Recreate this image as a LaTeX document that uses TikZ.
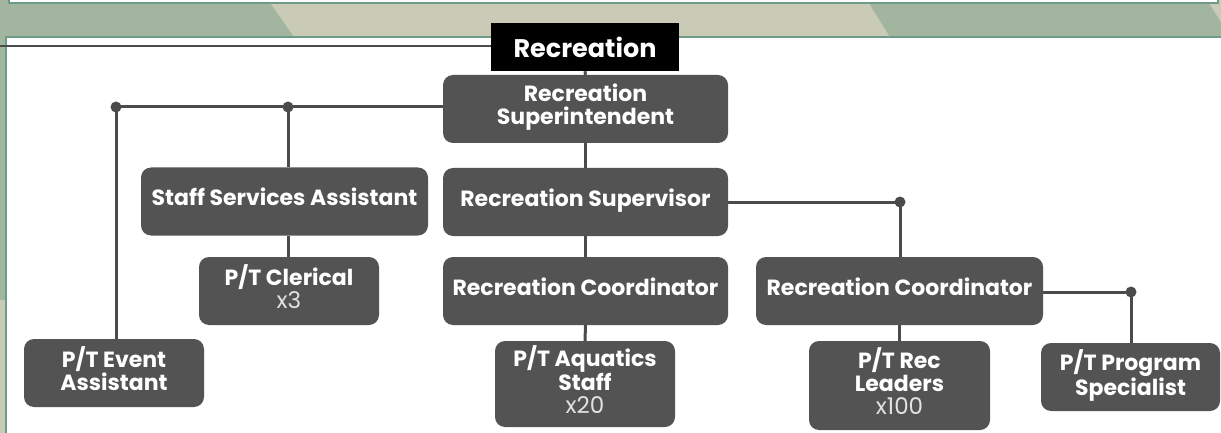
\documentclass[tikz,border=0pt]{standalone}
\usepackage{fontspec}
\setmainfont{Poppins}
\definecolor{boxgray}{HTML}{535353}
\definecolor{linegray}{HTML}{4B4B4B}
\definecolor{sage}{HTML}{A2B59F}
\definecolor{beige}{HTML}{C9CBB7}
\definecolor{frame}{HTML}{6C9B88}
\definecolor{countgray}{HTML}{E2E2E2}
% head count under a job title, in regular weight
\newcommand\headcount[1]{{\mdseries\fontsize{23}{24}\selectfont\color{countgray}#1}}
\begin{document}
\begin{tikzpicture}[x=1pt,y=-1pt,
  role/.style={fill=boxgray, rounded corners=10pt, text=white, align=center,
    inner sep=0pt, minimum height=68pt, text depth=9pt,
    font=\bfseries\fontsize{22}{23}\selectfont},
  link/.style={draw=linegray, line width=3pt},
  joint/.style={fill=linegray, circle, inner sep=0pt, minimum size=11pt}]
\useasboundingbox (0,0) rectangle (1221,433);

% backdrop: banded header strip and white panels
\fill[beige] (0,0) rectangle (1221,433);
\fill[sage] (0,0) -- (268,0) -- (294,37) -- (0,37) -- cycle;
\fill[sage] (867,0) -- (1207,0) -- (1230,37) -- (890,37) -- cycle;
\fill[sage] (0,37) rectangle (5,300);
\filldraw[fill=white, draw=frame, line width=2pt] (9,-10) rectangle (1218,3);
\filldraw[fill=white, draw=frame, line width=2pt] (6,37) rectangle (1240,450);

% section title
\node[fill=black, text=white, inner sep=0pt, minimum width=188pt, minimum height=48pt,
  font=\bfseries\fontsize{25.5}{28}\selectfont] (title) at (585,47) {Recreation};
\coordinate (rule) at (0,46);
\draw[linegray, line width=2pt] (rule) -- (title.west |- rule);

% positions
\node[role, minimum width=285pt] (supt) at (585.5,109) {Recreation\\Superintendent};
\node[role, minimum width=287pt] (ssa) at (284.5,201.5) {Staff Services Assistant};
\node[role, minimum width=285pt] (sv) at (585.5,202) {Recreation Supervisor};
\node[role, minimum width=180pt] (cler) at (289,291) {P/T Clerical\\\headcount{x3}};
\node[role, minimum width=285pt] (rc1) at (585.5,291) {Recreation Coordinator};
\node[role, minimum width=287pt] (rc2) at (899.5,291) {Recreation Coordinator};
\node[role, minimum width=180pt] (ev) at (114,373) {P/T Event\\Assistant};
\node[role, minimum width=180pt, minimum height=86pt] (aq) at (585,384) {P/T Aquatics\\Staff\\\headcount{x20}};
\node[role, minimum width=181pt, minimum height=89pt] (rl) at (899.5,385.5) {P/T Rec\\Leaders\\\headcount{x100}};
\node[role, minimum width=179pt] (ps) at (1130.5,377) {P/T Program\\Specialist};

% branch points
\node[joint] (j1) at (116,107) {};
\node[joint] (j2) at (288,107) {};
\node[joint] (j3) at (900,202) {};
\node[joint] (j4) at (1131,292) {};

% reporting lines
\draw[link] (title.south) -- (supt.north);
\draw[link] (supt.west |- j1) -- (j1.center);
\draw[link] (j1.center) -- (j1 |- ev.north);
\draw[link] (j2.center) -- (j2 |- ssa.north);
\draw[link] (supt.south) -- (sv.north);
\draw[link] (ssa.south -| j2) -- (cler.north -| j2);
\draw[link] (sv.south) -- (rc1.north);
\draw[link] (rc1.south) -- (aq.north);
\draw[link] (sv.east) -- (j3.center) -- (j3 |- rc2.north);
\draw[link] (rc2.south -| rl.north) -- (rl.north);
\draw[link] (rc2.east |- j4) -- (j4.center) -- (j4 |- ps.north);
\end{tikzpicture}
\end{document}
